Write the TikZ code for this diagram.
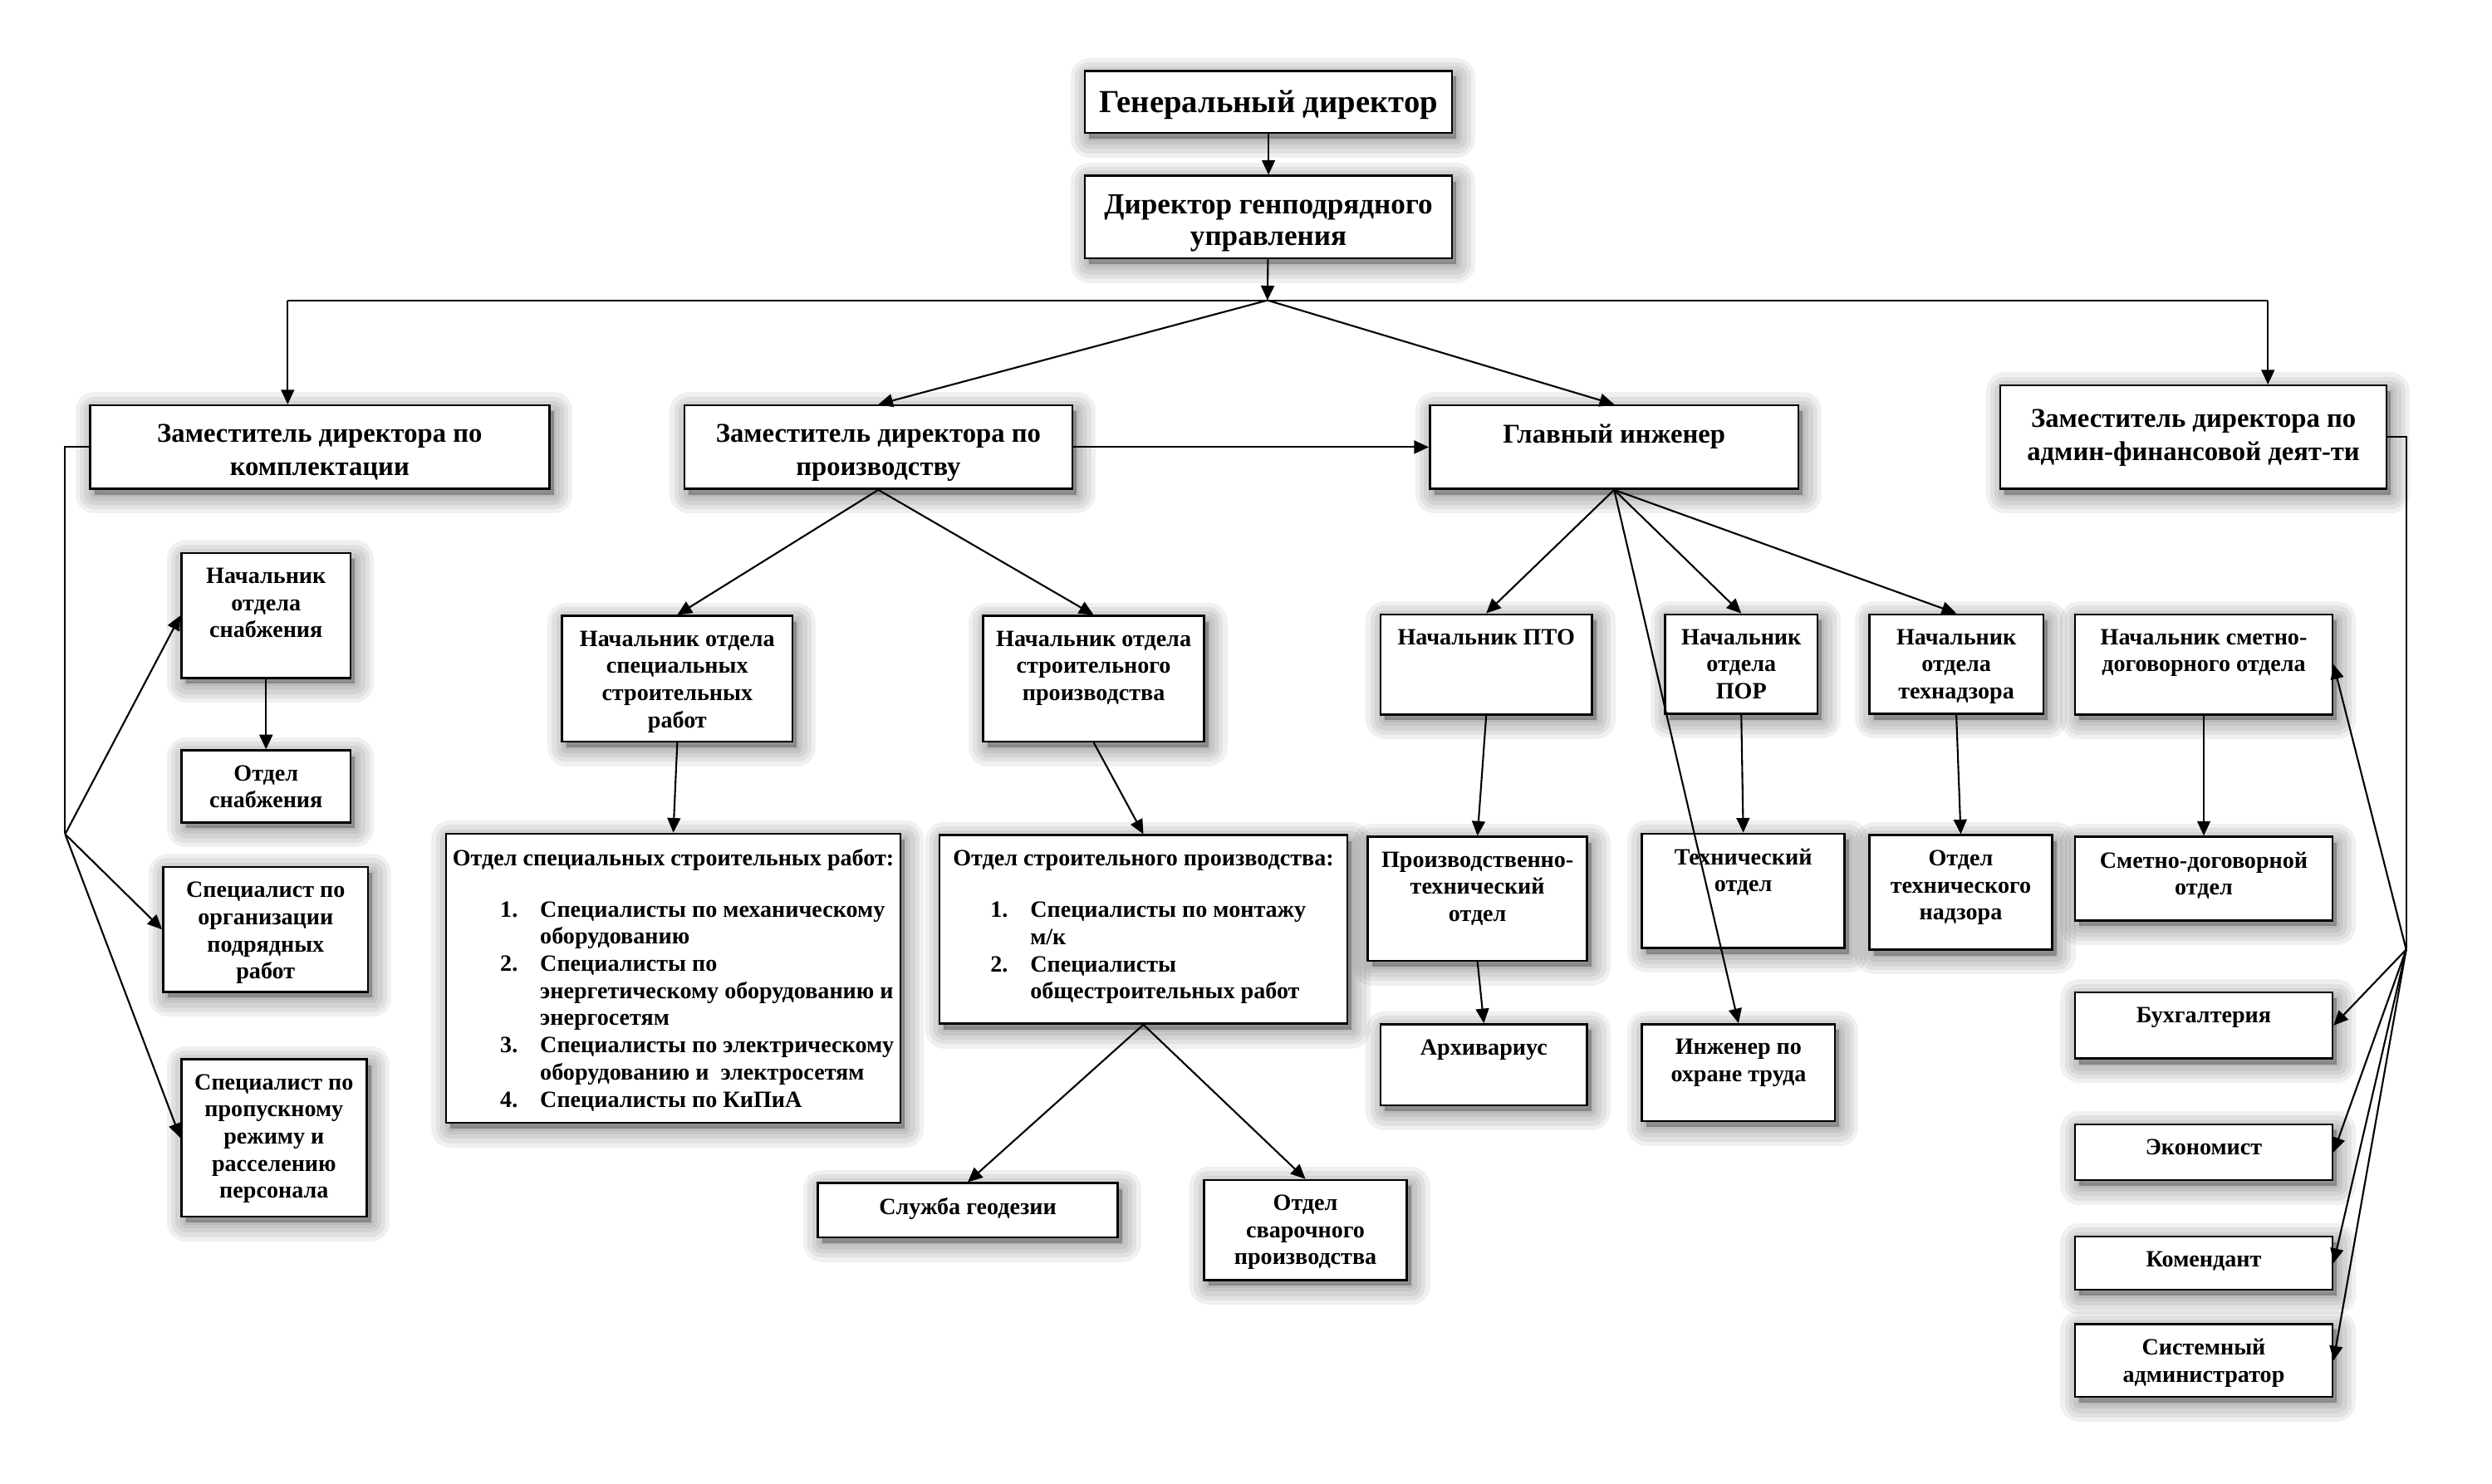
\documentclass[tikz,border=0pt]{standalone}
\usepackage{fontspec}
\setmainfont{Liberation Serif}
\usetikzlibrary{arrows.meta,shadows}

\newdimen\pxu \pxu=0.0191327cm

\newcommand\szA{\fontsize{11}{13}\selectfont\bfseries}
\newcommand\szB{\fontsize{10}{10.9}\selectfont\bfseries}
\newcommand\szC{\fontsize{9.3}{11.4}\selectfont\bfseries}
\newcommand\szD{\fontsize{8}{9.3}\selectfont\bfseries}

\newcommand\ossrlist{Отдел специальных строительных работ:\\[8.4pt]
\hspace*{30\pxu}\begin{tabular}[t]{@{}p{0.48cm}@{}l@{}}
1. & Специалисты по механическому\\
   & оборудованию\\
2. & Специалисты по\\
   & энергетическому оборудованию и\\
   & энергосетям\\
3. & Специалисты по электрическому\\
   & оборудованию и\ \ электросетям\\
4. & Специалисты по КиПиА
\end{tabular}}

\newcommand\osplist{Отдел строительного производства:\\[8.4pt]
\hspace*{6\pxu}\begin{tabular}[t]{@{}p{0.48cm}@{}l@{}}
1. & Специалисты по монтажу\\
   & м/к\\
2. & Специалисты\\
   & общестроительных работ
\end{tabular}}

\begin{document}
\begin{tikzpicture}[x=0.0191327cm, y=-0.0191327cm,
  halo/.style={general shadow={fill=black, draw=black, line width=#1, line join=round, opacity=0.06, shadow xshift=1.5pt, shadow yshift=-2pt}},
  box/.style={draw, line width=0.7pt, fill=white, halo=13pt, halo=10pt, halo=7pt, halo=4pt, halo=1.5pt},
  sz/.style 2 args={anchor=north west, inner sep=0pt, minimum width=#1*\pxu, minimum height=#2*\pxu},
  lbl/.style={anchor=north, yshift=-5.3pt, align=center, inner sep=0pt, font=\szD},
  txt/.style={label={[lbl]90:#1}},
  txtA/.style={label={[lbl, font=\szA, yshift=-1.6pt]90:#1}},
  txtB/.style={label={[lbl, font=\szB, yshift=-1.3pt]90:#1}},
  txtC/.style={label={[lbl, font=\szC, yshift=-1.4pt]90:#1}},
  ln/.style={line width=0.6pt},
  arr/.style={line width=0.6pt, -{Triangle[length=5pt,width=4.5pt]}}]

\fill[white] (0,0) rectangle (1568,933.5);
\useasboundingbox (0,0) rectangle (1568,933.5);

\node[box, sz={231}{39}, txtA={Генеральный директор}] (gd) at (682,44) {};
\node[box, sz={231}{52}, txtB={Директор генподрядного\\управления}] (dgu) at (682,110) {};

\node[box, sz={289}{52.5}, txtC={Заместитель директора по\\комплектации}] (zk) at (56,254.5) {};
\node[box, sz={244}{52.5}, txtC={Заместитель директора по\\производству}] (zp) at (430,254.5) {};
\node[box, sz={232}{52.5}, txtC={Главный инженер}] (gi) at (899,254.5) {};
\node[box, sz={243}{65}, label={[lbl, font=\szC, yshift=-2.9pt]90:Заместитель директора по\\админ-финансовой деят-ти}] (zaf) at (1258,242) {};

\node[box, sz={106.5}{78.5}, txt={Начальник\\отдела\\снабжения}] (nos) at (113.5,347.5) {};
\node[box, sz={106.5}{45.4}, txt={Отдел\\снабжения}] (os) at (113.5,471.6) {};
\node[box, sz={129}{78.6}, txt={Специалист по\\организации\\подрядных\\работ}] (sopr) at (102,545) {};
\node[box, sz={116.5}{99}, txt={Специалист по\\пропускному\\режиму и\\расселению\\персонала}] (sprr) at (113.5,666) {};

\node[box, sz={145}{79}, txt={Начальник отдела\\специальных\\строительных\\работ}] (nossr) at (353,387) {};
\node[box, sz={139}{79}, txt={Начальник отдела\\строительного\\производства}] (nosp) at (618,387) {};
\node[box, sz={286}{182}, txt={\ossrlist}] (ossr) at (280,524) {};
\node[box, sz={256.4}{118.6}, txt={\osplist}] (osp) at (590.6,525) {};
\node[box, sz={188.6}{34}, txt={Служба геодезии}] (sg) at (514,744) {};
\node[box, sz={127.5}{63}, txt={Отдел\\сварочного\\производства}] (osvp) at (757,742) {};

\node[box, sz={133}{63}, txt={Начальник ПТО}] (npto) at (868,386) {};
\node[box, sz={96}{62.6}, txt={Начальник\\отдела\\ПОР}] (nopor) at (1047,386) {};
\node[box, sz={109.4}{62.6}, txt={Начальник\\отдела\\технадзора}] (ontn) at (1175.6,386) {};
\node[box, sz={138}{78}, txt={Производственно-\\технический\\отдел}] (pto) at (860,526) {};
\node[box, sz={127.5}{72}, txt={Технический\\отдел}] (to) at (1032.5,524) {};
\node[box, sz={115}{72}, txt={Отдел\\технического\\надзора}] (otn) at (1175.6,525) {};
\node[box, sz={130}{51}, txt={Архивариус}] (arh) at (868,644) {};
\node[box, sz={121.5}{61}, txt={Инженер по\\охране труда}] (iot) at (1032.5,644) {};

\node[box, sz={162}{63}, txt={Начальник сметно-\\договорного отдела}] (nsdo) at (1305,386) {};
\node[box, sz={162}{52.7}, txt={Сметно-договорной\\отдел}] (sdo) at (1305,526) {};
\node[box, sz={162}{41.5}, txt={Бухгалтерия}] (buh) at (1305,624) {};
\node[box, sz={162}{35}, txt={Экономист}] (ek) at (1305,707) {};
\node[box, sz={162}{33.4}, txt={Комендант}] (kom) at (1305,777.6) {};
\node[box, sz={162}{45.9}, txt={Системный\\администратор}] (sa) at (1305,832.7) {};

\coordinate (hub) at (797.5,189);
\coordinate (busL) at (181,189);
\coordinate (busR) at (1427,189);
\coordinate (fanL) at (41,525);
\coordinate (fanR) at (1514,597.6);

\draw[arr] (gd) -- (dgu);
\draw[arr] (dgu) -- (hub);
\draw[ln] (busL) -- (busR);
\draw[arr] (busL) -- (busL |- zk.north);
\draw[arr] (busR) -- (busR |- zaf.north);
\draw[arr] (hub) -- (zp.north);
\draw[arr] (hub) -- (gi.north);
\draw[arr] (zp) -- (gi);

\draw[ln] (zk.west) -| (fanL);
\foreach \t in {nos,sopr,sprr} \draw[arr] (fanL) -- (\t.west);
\draw[arr] (nos) -- (os);

\draw[arr] (zp.south) -- (nossr.north);
\draw[arr] (zp.south) -- (nosp.north);
\draw[arr] (nossr.south) -- (ossr.north);
\draw[arr] (nosp.south) -- (osp.north);
\draw[arr] (osp.south) -- (sg.north);
\draw[arr] (osp.south) -- (osvp.north);

\foreach \t in {npto,nopor,ontn,iot} \draw[arr] (gi.south) -- (\t.north);
\draw[arr] (npto.south) -- (pto.north);
\draw[arr] (pto.south) -- (arh.north);
\draw[arr] (nopor.south) -- (to.north);
\draw[arr] (ontn.south) -- (otn.north);

\draw[ln] (zaf.east) -| (fanR);
\foreach \t in {nsdo,buh,ek,kom,sa} \draw[arr] (fanR) -- (\t.east);
\draw[arr] (nsdo) -- (sdo);

\end{tikzpicture}
\end{document}
